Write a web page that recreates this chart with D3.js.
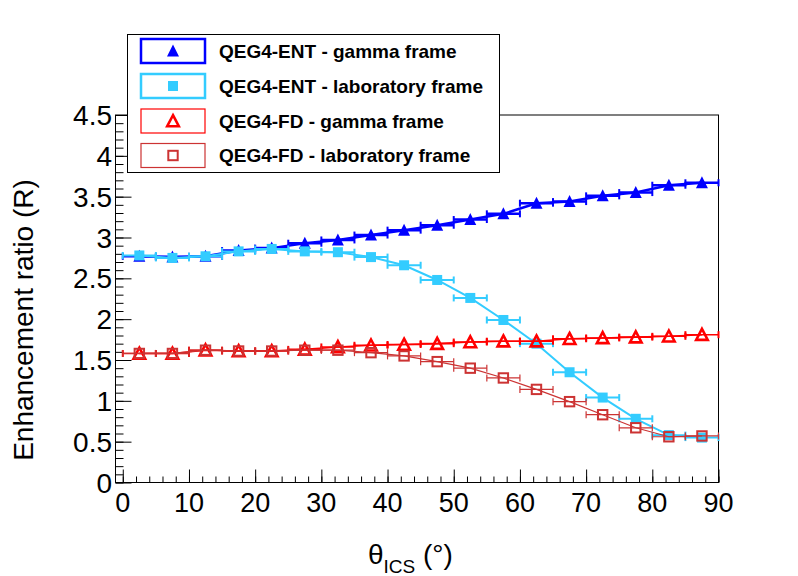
<!DOCTYPE html>
<html>
<head>
<meta charset="utf-8">
<script src="https://cdn.jsdelivr.net/npm/d3@7"></script>
<style>
  body { margin: 0; background: #fff; }
  text { font-family: "Liberation Sans", Arial, Helvetica, sans-serif; }
</style>
</head>
<body>
<div id="chart"></div>
<script>
// data
var theta = [2.5, 7.5, 12.5, 17.5, 22.5, 27.5, 32.5, 37.5, 42.5, 47.5, 52.5, 57.5, 62.5, 67.5, 72.5, 77.5, 82.5, 87.5];
var thetaErr = 2.5;
var entGamma = [2.77, 2.76, 2.77, 2.84, 2.87, 2.93, 2.97, 3.03, 3.09, 3.15, 3.22, 3.29, 3.42, 3.44, 3.51, 3.55, 3.64, 3.67];
var entLab = [2.78, 2.75, 2.77, 2.83, 2.86, 2.83, 2.82, 2.76, 2.66, 2.48, 2.26, 1.99, 1.70, 1.35, 1.04, 0.78, 0.58, 0.55];
var fdGamma = [1.58, 1.58, 1.62, 1.61, 1.61, 1.63, 1.66, 1.68, 1.69, 1.70, 1.72, 1.73, 1.73, 1.76, 1.77, 1.78, 1.79, 1.81];
var fdLab = [1.58, 1.58, 1.62, 1.61, 1.61, 1.62, 1.62, 1.59, 1.55, 1.48, 1.40, 1.28, 1.14, 0.99, 0.83, 0.67, 0.56, 0.57];
var seriesNames = ["QEG4-ENT - gamma frame", "QEG4-ENT - laboratory frame", "QEG4-FD - gamma frame", "QEG4-FD - laboratory frame"];
var xTicks = [0, 10, 20, 30, 40, 50, 60, 70, 80, 90];
var yTicks = [0, 0.5, 1, 1.5, 2, 2.5, 3, 3.5, 4, 4.5];

var svgWidth = 798;
var svgHeight = 576;

// frame position in pixels
var frame = { left: 115.5, right: 718.5, top: 115, bottom: 482.5 };

var svg = d3.select("#chart").append("svg")
  .attr("width", svgWidth)
  .attr("height", svgHeight);

var xScale = d3.scaleLinear().domain([-1.1, 90]).range([frame.left, frame.right]);
var yScale = d3.scaleLinear().domain([0, 4.5]).range([frame.bottom, frame.top]);

// marker shapes
var markers = {
  triFull: function(g, color) {
    g.append("path").attr("d", "M0,-6.5L6,5.5L-6,5.5Z").attr("fill", color);
  },
  square: function(g, color) {
    g.append("rect").attr("x", -5).attr("y", -5).attr("width", 10).attr("height", 10).attr("fill", color);
  },
  triOpen: function(g, color) {
    g.append("path").attr("d", "M0,-5.8L5.8,5.2L-5.8,5.2Z")
      .attr("fill", "none").attr("stroke", color).attr("stroke-width", 2.6).attr("stroke-linejoin", "miter");
  },
  squareOpen: function(g, color) {
    g.append("rect").attr("x", -4.7).attr("y", -4.7).attr("width", 9.4).attr("height", 9.4)
      .attr("fill", "none").attr("stroke", color).attr("stroke-width", 2);
  }
};

var series = [
  { name: seriesNames[0], values: entGamma, color: "#0000ff", lw: 2.5, boxW: 2.5, marker: "triFull" },
  { name: seriesNames[1], values: entLab, color: "#33ccff", lw: 2, boxW: 2.5, marker: "square" },
  { name: seriesNames[2], values: fdGamma, color: "#ff0000", lw: 1.6, boxW: 1.2, marker: "triOpen" },
  { name: seriesNames[3], values: fdLab, color: "#cc3333", lw: 1.2, boxW: 1.2, marker: "squareOpen" }
];

// axes (ROOT style: ticks inside the frame)
var xAxis = d3.axisTop(xScale).tickValues(d3.range(0, 90.1, 2))
  .tickSize(6).tickFormat("");
var xMajor = d3.axisTop(xScale).tickValues(xTicks).tickSize(13).tickFormat("");
var yAxis = d3.axisRight(yScale).tickValues(d3.range(0, 4.51, 0.1))
  .tickSize(8).tickFormat("");
var yMajor = d3.axisRight(yScale).tickValues(yTicks).tickSize(16).tickFormat("");

[xAxis, xMajor].forEach(function(ax) {
  svg.append("g").attr("transform", `translate(0, ${frame.bottom})`).call(ax)
    .call(g => g.select(".domain").remove())
    .selectAll("line").attr("stroke", "#000");
});
[yAxis, yMajor].forEach(function(ax) {
  svg.append("g").attr("transform", `translate(${frame.left}, 0)`).call(ax)
    .call(g => g.select(".domain").remove())
    .selectAll("line").attr("stroke", "#000");
});

svg.append("rect")
  .attr("x", frame.left).attr("y", frame.top)
  .attr("width", frame.right - frame.left).attr("height", frame.bottom - frame.top)
  .attr("fill", "none").attr("stroke", "#000").attr("stroke-width", 1);

// tick labels
svg.selectAll(".xLabel").data(xTicks).enter().append("text")
  .attr("x", d => xScale(d)).attr("y", 512)
  .attr("text-anchor", "middle").attr("font-size", 27)
  .text(d => d);

svg.selectAll(".yLabel").data(yTicks).enter().append("text")
  .attr("x", 112).attr("y", d => yScale(d) + 10)
  .attr("text-anchor", "end").attr("font-size", 28)
  .text(d => d);

// axis titles
var xTitle = svg.append("text").attr("x", 368).attr("y", 564).attr("font-size", 28);
xTitle.append("tspan").text("θ");
xTitle.append("tspan").attr("font-size", 19).attr("dy", 9).text("ICS");
xTitle.append("tspan").attr("dy", -9).text(" (°)");

svg.append("text")
  .attr("transform", "translate(33, 320) rotate(-90)")
  .attr("text-anchor", "middle").attr("font-size", 28)
  .text("Enhancement ratio (R)");

// graphs
var line = d3.line().x(d => xScale(d.x)).y(d => yScale(d.y));

series.forEach(function(s) {
  var pts = theta.map((t, i) => ({ x: t, y: s.values[i] }));
  var g = svg.append("g");

  g.append("path").datum(pts)
    .attr("d", line)
    .attr("fill", "none").attr("stroke", s.color).attr("stroke-width", s.lw);

  // horizontal error bars with end caps
  g.selectAll(".err").data(pts).enter().append("line")
    .attr("x1", d => xScale(d.x - thetaErr)).attr("x2", d => xScale(d.x + thetaErr))
    .attr("y1", d => yScale(d.y)).attr("y2", d => yScale(d.y))
    .attr("stroke", s.color).attr("stroke-width", s.lw);
  g.selectAll(".capL").data(pts).enter().append("line")
    .attr("x1", d => xScale(d.x - thetaErr)).attr("x2", d => xScale(d.x - thetaErr))
    .attr("y1", d => yScale(d.y) - 3.5).attr("y2", d => yScale(d.y) + 3.5)
    .attr("stroke", s.color).attr("stroke-width", s.lw > 1.5 ? 2 : 1.2);
  g.selectAll(".capR").data(pts).enter().append("line")
    .attr("x1", d => xScale(d.x + thetaErr)).attr("x2", d => xScale(d.x + thetaErr))
    .attr("y1", d => yScale(d.y) - 3.5).attr("y2", d => yScale(d.y) + 3.5)
    .attr("stroke", s.color).attr("stroke-width", s.lw > 1.5 ? 2 : 1.2);

  g.selectAll(".mk").data(pts).enter().append("g")
    .attr("transform", d => `translate(${xScale(d.x)}, ${yScale(d.y)})`)
    .each(function() { markers[s.marker](d3.select(this), s.color); });
});

// legend
var legend = svg.append("g");
legend.append("rect")
  .attr("x", 127.5).attr("y", 34.5).attr("width", 372).attr("height", 138)
  .attr("fill", "#fff").attr("stroke", "#000").attr("stroke-width", 1);

var rowY = [51, 86, 121, 155.5];
series.forEach(function(s, i) {
  legend.append("rect")
    .attr("x", 141).attr("y", rowY[i] - 12).attr("width", 64).attr("height", 24)
    .attr("fill", "#fff").attr("stroke", s.color).attr("stroke-width", s.boxW);
  var m = legend.append("g").attr("transform", `translate(173, ${rowY[i]})`);
  markers[s.marker](m, s.color);
  legend.append("text")
    .attr("x", 219).attr("y", rowY[i] + 6.8)
    .attr("font-size", 19).attr("font-weight", "bold")
    .text(s.name);
});
</script>
</body>
</html>
